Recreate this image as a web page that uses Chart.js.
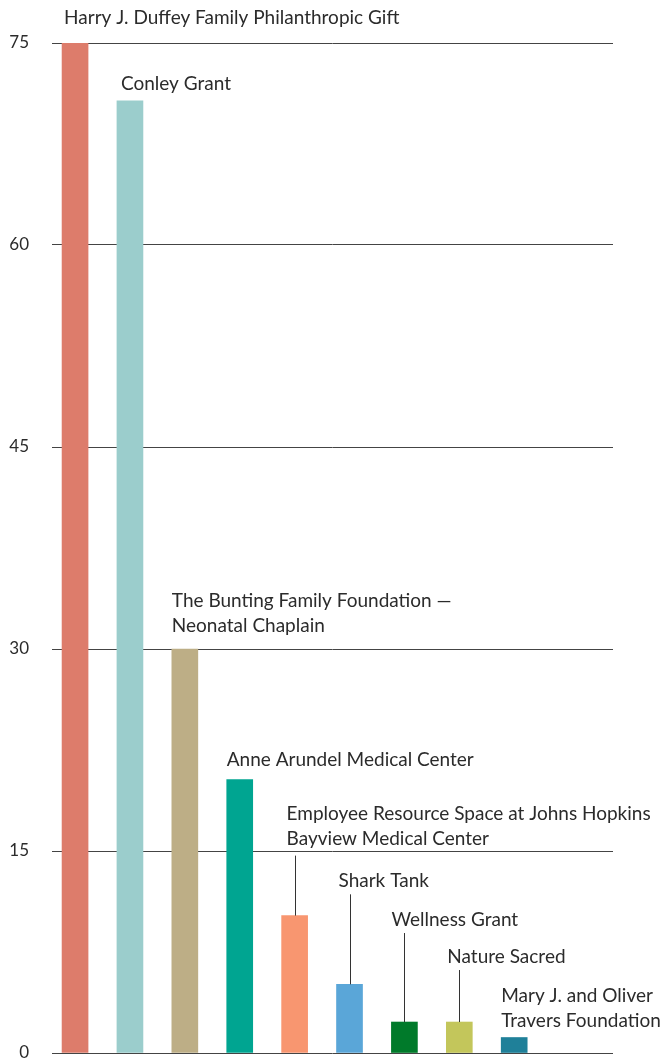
<!DOCTYPE html>
<html>
<head>
<meta charset="utf-8">
<script src="https://cdn.jsdelivr.net/npm/chart.js@4"></script>
<style>
  body { margin: 0; background: #fff; }
  canvas { display: block; }
</style>
</head>
<body>
<canvas id="grants" width="665" height="1059"></canvas>
<script>
// GRANT AMOUNTS BY FUNDER

const categories = [
  ["Harry J. Duffey Family Philanthropic Gift"],
  ["Conley Grant"],
  ["The Bunting Family Foundation \u2014", "Neonatal Chaplain"],
  ["Anne Arundel Medical Center"],
  ["Employee Resource Space at Johns Hopkins", "Bayview Medical Center"],
  ["Shark Tank"],
  ["Wellness Grant"],
  ["Nature Sacred"],
  ["Mary J. and Oliver", "Travers Foundation"]
];
const values = [75, 70.7, 30, 20.3, 10.2, 5.1, 2.3, 2.3, 1.15];
const yTicks = [0, 15, 30, 45, 60, 75];

const barColors = ['#DD7C6B', '#9BCDCC', '#BDAE86', '#00A591', '#F89670',
                   '#5AA6D8', '#007A2A', '#C3C65B', '#1F8099'];

// label placement: rise of the last baseline above the bar top, small x nudge, leader line or not
const labelRise = [19, 11, 17, 14, 71, 97, 96, 59, 11];
const labelDx = [2, 4, 0, 0, 5, 2, 0, 1, 0];
const hasLeader = [false, false, false, false, true, true, true, true, false];

const FONT = '19px Lato';
const TEXT = '#2b2b2b';

const barLabels = {
  id: 'barLabels',
  afterDatasetsDraw(chart) {
    const ctx = chart.ctx;
    const bars = chart.getDatasetMeta(0).data;
    ctx.save();
    ctx.font = FONT;
    ctx.fillStyle = TEXT;
    ctx.textBaseline = 'alphabetic';
    ctx.textAlign = 'left';
    bars.forEach((bar, i) => {
      const left = bar.x - bar.width / 2;
      const base = bar.y - labelRise[i];
      const lines = categories[i];
      lines.forEach((line, j) => {
        ctx.fillText(line, left + labelDx[i], base - (lines.length - 1 - j) * 25);
      });
      if (hasLeader[i]) {
        ctx.strokeStyle = '#333';
        ctx.lineWidth = 1;
        ctx.beginPath();
        ctx.moveTo(Math.round(bar.x) + 0.5, bar.y);
        ctx.lineTo(Math.round(bar.x) + 0.5, base + (i === 4 ? 11 : 7));
        ctx.stroke();
      }
    });
    ctx.restore();
  }
};

function grantChart() {
  const ctx = document.getElementById('grants').getContext('2d');
  const chart = new Chart(ctx, {
    type: 'bar',
    data: {
      datasets: [
        {
          label: 'Grants',
          backgroundColor: barColors,
          borderWidth: 0,
          barThickness: 26,
          data: values.map((v, i) => ({ x: i, y: v }))
        }
      ]
    },
    options: {
      responsive: false,
      animation: false,
      layout: { padding: { top: 43, bottom: 6, right: 52, left: 0 } },
      plugins: {
        legend: { display: false },
        tooltip: { enabled: false }
      },
      scales: {
        x: {
          type: 'linear',
          display: false,
          offset: false,
          grid: { offset: false },
          min: -0.42,
          max: 9.8
        },
        y: {
          min: 0,
          max: 75,
          afterBuildTicks: (axis) => { axis.ticks = yTicks.map(v => ({ value: v })); },
          afterFit: (axis) => { axis.width = 52; },
          border: { display: false },
          grid: { color: '#444', lineWidth: 1, drawTicks: true, tickLength: 23, tickColor: 'rgba(0,0,0,0)' },
          ticks: {
            padding: 0,
            color: TEXT,
            font: { family: 'Lato', size: 17, lineHeight: 0.6 }
          }
        }
      }
    },
    plugins: [barLabels]
  });
}
grantChart()
</script>
</body>
</html>
